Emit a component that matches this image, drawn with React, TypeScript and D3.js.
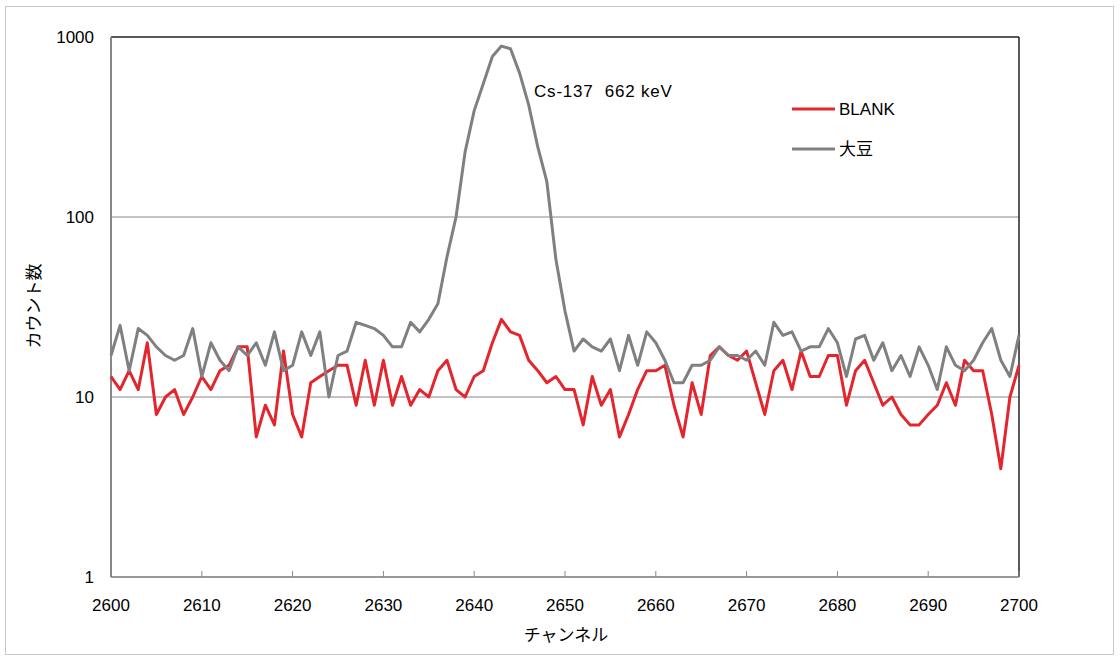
import React from "react";
import * as d3 from "d3";

const channels: number[] = d3.range(2600, 2701);

const blank: number[] = [
  13, 11, 14, 11, 20, 8, 10, 11, 8, 10,
  13, 11, 14, 15, 19, 19, 6, 9, 7, 18,
  8, 6, 12, 13, 14, 15, 15, 9, 16, 9,
  16, 9, 13, 9, 11, 10, 14, 16, 11, 10,
  13, 14, 20, 27, 23, 22, 16, 14, 12, 13,
  11, 11, 7, 13, 9, 11, 6, 8, 11, 14,
  14, 15, 9, 6, 12, 8, 17, 19, 17, 16,
  18, 12, 8, 14, 16, 11, 18, 13, 13, 17,
  17, 9, 14, 16, 12, 9, 10, 8, 7, 7,
  8, 9, 12, 9, 16, 14, 14, 8, 4, 10,
  15,
];

const soybean: number[] = [
  17, 25, 14, 24, 22, 19, 17, 16, 17, 24,
  13, 20, 16, 14, 19, 17, 20, 15, 23, 14,
  15, 23, 17, 23, 10, 17, 18, 26, 25, 24,
  22, 19, 19, 26, 23, 27, 33, 60, 100, 230,
  390, 550, 780, 890, 860, 630, 420, 245, 157, 58,
  30, 18, 21, 19, 18, 21, 14, 22, 15, 23,
  20, 16, 12, 12, 15, 15, 16, 19, 17, 17,
  16, 18, 15, 26, 22, 23, 18, 19, 19, 24,
  20, 13, 21, 22, 16, 20, 14, 17, 13, 19,
  15, 11, 19, 15, 14, 16, 20, 24, 16, 13,
  22,
];

const xTicks: number[] = [2600, 2610, 2620, 2630, 2640, 2650, 2660, 2670, 2680, 2690, 2700];
const yTicks: number[] = [1, 10, 100, 1000];

const seriesNames = ["BLANK", "大豆"];
const seriesColors = ["#e3262e", "#808080"];
const annotation = "Cs-137\u00A0\u00A0662\u00A0keV";

const W = 1120;
const H = 661;
const left = 111;
const right = 1019;
const top = 37;
const bottom = 577;

export default function App() {
  const x = d3.scaleLinear().domain([2600, 2700]).range([left, right]);
  const y = d3.scaleLog().domain([1, 1000]).range([bottom, top]);
  const line = d3
    .line<number>()
    .x((_, i) => x(channels[i]))
    .y((d) => y(d));
  const series = [blank, soybean];
  const font = "'Liberation Sans', Arial, sans-serif";
  const jp = "'Noto Sans CJK JP', sans-serif";

  return (
    <svg
      width={W}
      height={H}
      style={{ position: "absolute", left: 0, top: 0, background: "#fff" }}
    >
      <rect x={5.5} y={6.5} width={1108} height={648} fill="#fff" stroke="#c8c8c8" />
      {/* gridlines */}
      {yTicks
        .filter((t) => t > 1 && t < 1000)
        .map((t) => (
          <line key={t} x1={left} x2={right} y1={y(t)} y2={y(t)} stroke="#888" strokeWidth={1} />
        ))}
      {/* top & right frame */}
      <line x1={left} x2={right} y1={y(1000)} y2={y(1000)} stroke="#222" strokeWidth={1.5} />
      <line x1={right} x2={right} y1={top} y2={bottom} stroke="#222" strokeWidth={1.5} />
      {/* left axis */}
      <line x1={left} x2={left} y1={top} y2={bottom} stroke="#888" strokeWidth={2} />
      {/* bottom axis */}
      <line x1={left} x2={right} y1={bottom} y2={bottom} stroke="#777" strokeWidth={1.5} />
      {xTicks.map((t) => (
        <line key={t} x1={x(t)} x2={x(t)} y1={bottom} y2={bottom - 6} stroke="#888" strokeWidth={1} />
      ))}
      {/* series */}
      {series.map((s, k) => (
        <path
          key={k}
          d={line(s) || ""}
          fill="none"
          stroke={seriesColors[k]}
          strokeWidth={3}
          strokeLinejoin="round"
        />
      ))}
      {/* y tick labels */}
      {yTicks.map((t) => (
        <text
          key={t}
          x={94}
          y={y(t)}
          dy="0.36em"
          textAnchor="end"
          fontFamily={font}
          fontSize={17}
          fill="#000"
        >
          {t}
        </text>
      ))}
      {/* x tick labels */}
      {xTicks.map((t) => (
        <text
          key={t}
          x={x(t)}
          y={611}
          textAnchor="middle"
          fontFamily={font}
          fontSize={17}
          fill="#000"
        >
          {t}
        </text>
      ))}
      {/* axis titles */}
      <text x={566} y={641} textAnchor="middle" fontFamily={jp} fontSize={17} fill="#000">
        チャンネル
      </text>
      <text
        transform={`translate(40,306) rotate(-90)`}
        textAnchor="middle"
        fontFamily={jp}
        fontSize={17}
        fill="#000"
      >
        カウント数
      </text>
      {/* annotation */}
      <text x={534} y={97} fontFamily={font} fontSize={17} letterSpacing={0.8} fill="#000">
        {annotation}
      </text>
      {/* legend */}
      {seriesNames.map((n, k) => (
        <g key={n} transform={`translate(792,${109 + k * 40})`}>
          <line x1={0} x2={43} y1={0} y2={0} stroke={seriesColors[k]} strokeWidth={3} />
          <text x={47} y={0} dy="0.36em" fontFamily={k === 0 ? font : jp} fontSize={17} fill="#000">
            {n}
          </text>
        </g>
      ))}
    </svg>
  );
}
